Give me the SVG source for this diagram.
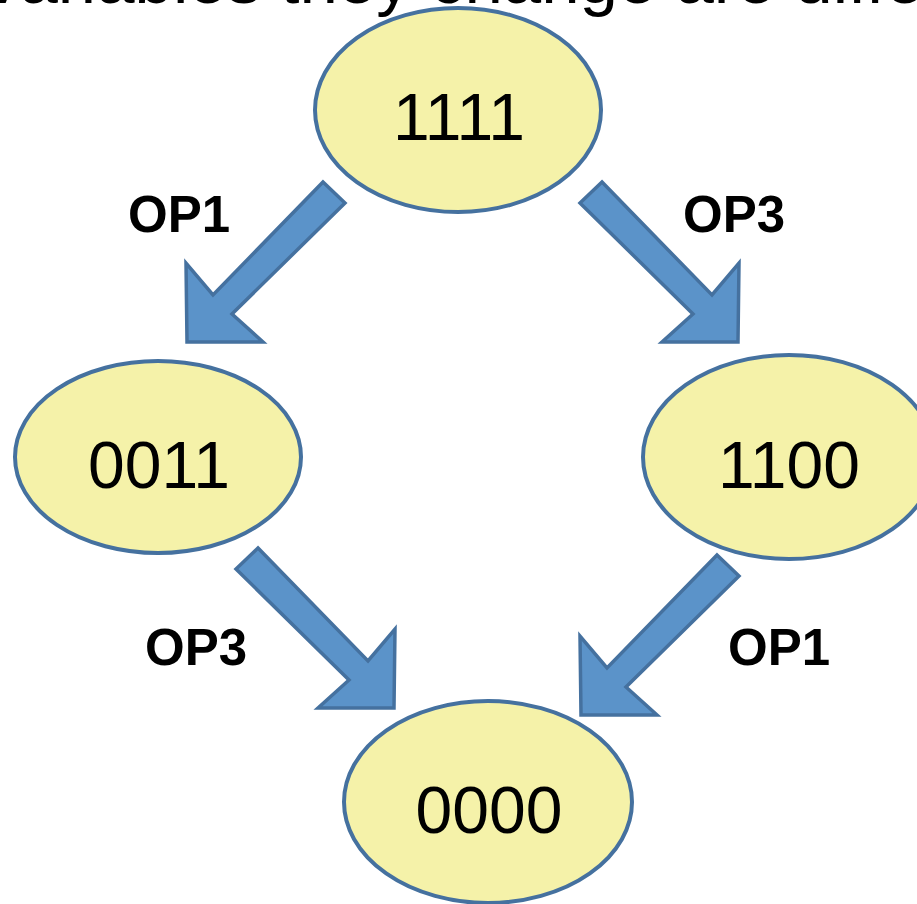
<svg xmlns="http://www.w3.org/2000/svg" width="917" height="904" viewBox="0 0 917 904">
  <style>
    .state ellipse { fill: #f5f2a9; stroke: #45719f; stroke-width: 4; }
    .state text { font-family: "Liberation Sans", Arial, sans-serif; font-size: 66px; fill: #000; text-anchor: middle; }
    .arrow { fill: #5b93c9; stroke: #45719f; stroke-width: 3.5; stroke-linejoin: miter; }
    .op { font-family: "Liberation Sans", Arial, sans-serif; font-size: 51px; font-weight: bold; fill: #000; text-anchor: middle; }
    .heading { font-family: "Liberation Sans", Arial, sans-serif; font-size: 69px; fill: #000; }
  </style>

  <rect width="917" height="904" fill="#ffffff"/>

  <!-- heading line running off the top edge -->
  <text class="heading" x="-15" y="3">variables they change are different</text>

  <!-- transitions -->
  <g id="connectors">
    <!-- 1111 -> 0011 -->
    <polygon class="arrow" points="323,182 345,203 232,314 263,342 187,342 186,263 213,295"/>
    <!-- 1111 -> 1100 -->
    <polygon class="arrow" points="602,182 580,203 693,314 662,342 738,342 739,263 712,295"/>
    <!-- 0011 -> 0000 -->
    <polygon class="arrow" points="258,548 236,569 349,680 318,708 394,708 395,629 368,661"/>
    <!-- 1100 -> 0000 -->
    <polygon class="arrow" points="717,555 739,576 626,687 657,715 581,715 580,636 607,668"/>
  </g>

  <g id="labels">
    <text class="op" x="179" y="232">OP1</text>
    <text class="op" x="734" y="232">OP3</text>
    <text class="op" x="196" y="665">OP3</text>
    <text class="op" x="779" y="665">OP1</text>
  </g>

  <g id="node-1111" class="state">
    <ellipse cx="458" cy="110" rx="143" ry="102"/>
    <text x="459" y="140">1111</text>
  </g>

  <g id="node-0011" class="state">
    <ellipse cx="158" cy="457" rx="143" ry="96"/>
    <text x="159" y="488">0011</text>
  </g>

  <g id="node-1100" class="state">
    <ellipse cx="789" cy="457" rx="146" ry="102"/>
    <text x="789" y="488">1100</text>
  </g>

  <g id="node-0000" class="state">
    <ellipse cx="488" cy="802" rx="144" ry="101"/>
    <text x="489" y="833">0000</text>
  </g>
</svg>
